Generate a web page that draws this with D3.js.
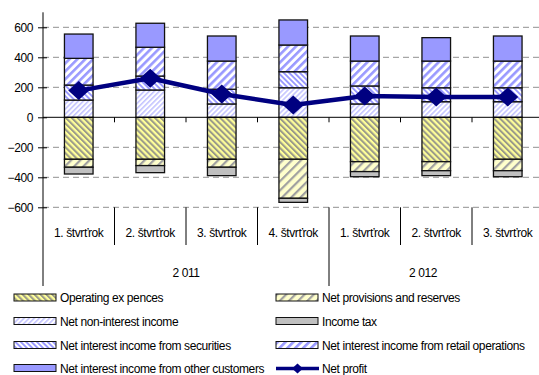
<!DOCTYPE html>
<html>
<head>
<meta charset="utf-8">
<script src="https://cdn.jsdelivr.net/npm/d3@7"></script>
<style>
  html, body { margin: 0; padding: 0; background: #fff; }
  svg { display: block; font-family: "Liberation Sans", Arial, sans-serif; }
</style>
</head>
<body>
<svg id="chart" width="539" height="375"></svg>
<script>
// Quarterly categories and year groups
const quarters = ["1. štvrťrok", "2. štvrťrok", "3. štvrťrok", "4. štvrťrok",
                  "1. štvrťrok", "2. štvrťrok", "3. štvrťrok"];
const years = ["2 011", "2 012"];
const yearSpans = [4, 3];

// Components of the result (mil.)
const nonInterest    = [115, 182,  89, 197,  89, 104, 104];
const securities     = [100,  93,  98, 107, 120,  93,  93];
const retail         = [178, 192, 188, 178, 166, 178, 178];
const otherCustomers = [162, 160, 167, 167, 167, 156, 167];
const opEx           = [-280, -280, -280, -280, -296, -296, -280];
const provisions     = [-53, -42, -53, -260, -66, -60, -76];
const incomeTax      = [-45, -47, -56, -27, -34, -33, -40];
const netProfit      = [178, 260, 155, 82, 142, 135, 135];

const yTicks = [-600, -400, -200, 0, 200, 400, 600];

const seriesDefs = [
  { key: "opEx",           name: "Operating ex pences",                       values: opEx,           fill: "url(#pOpEx)" },
  { key: "provisions",     name: "Net provisions and reserves",               values: provisions,     fill: "url(#pProv)" },
  { key: "nonInterest",    name: "Net non-interest income",                   values: nonInterest,    fill: "url(#pNonInt)" },
  { key: "incomeTax",      name: "Income tax",                                values: incomeTax,      fill: "#c0c0c0" },
  { key: "securities",     name: "Net interest income from securities",       values: securities,     fill: "url(#pSec)" },
  { key: "retail",         name: "Net interest income from retail operations",values: retail,         fill: "url(#pRetail)" },
  { key: "otherCustomers", name: "Net interest income from other customers",  values: otherCustomers, fill: "#9999ff" }
];

const svg = d3.select("#chart");
const defs = svg.append("defs");

// Diagonal hatch patterns; angle 45 -> "/", -45 -> "\"
function hatch(id, bg, fg, period, stripe, angle) {
  const p = defs.append("pattern")
    .attr("id", id)
    .attr("patternUnits", "userSpaceOnUse")
    .attr("width", period).attr("height", period)
    .attr("patternTransform", `rotate(${angle})`);
  p.append("rect").attr("width", period).attr("height", period).attr("fill", bg);
  p.append("rect").attr("width", stripe).attr("height", period).attr("fill", fg);
}
hatch("pOpEx",   "#ffff99", "#9a9a8a", 4.2, 2.0, -45);
hatch("pProv",   "#ffffcc", "#a0a0a0", 6.5, 2.2, 45);
hatch("pNonInt", "#ffffff", "#c4c4ff", 3.6, 1.6, 45);
hatch("pSec",    "#ffffff", "#9999ff", 3.8, 1.9, -45);
hatch("pRetail", "#ffffff", "#9999ff", 5.6, 2.6, 45);

const plotLeft = 43, plotTop = 12.3, plotBottom = 207.3;
const step = 71.5;
const x = d3.scaleBand()
  .domain(d3.range(quarters.length))
  .range([plotLeft, plotLeft + step * quarters.length])
  .paddingInner(0).paddingOuter(0);
const barW = x.bandwidth() * 0.4;

const y = d3.scaleLinear().domain([-600, 700]).range([plotBottom, plotTop]);

// Gridlines
const grid = svg.append("g");
grid.selectAll("line")
  .data(yTicks.filter(d => d !== 0))
  .join("line")
  .attr("x1", plotLeft).attr("x2", 539)
  .attr("y1", d => y(d)).attr("y2", d => y(d))
  .attr("stroke", "#a6a6a6").attr("stroke-width", 1.3)
  .attr("stroke-dasharray", "6,4");

// Stacked bars
const table = quarters.map((q, i) => {
  const row = { i };
  seriesDefs.forEach(s => row[s.key] = s.values[i]);
  return row;
});
const stacked = d3.stack()
  .keys(seriesDefs.map(s => s.key))
  .offset(d3.stackOffsetDiverging)(table);

const bars = svg.append("g");
stacked.forEach((layer, li) => {
  bars.append("g")
    .selectAll("rect")
    .data(layer)
    .join("rect")
    .attr("x", d => x(d.data.i) + (x.bandwidth() - barW) / 2)
    .attr("width", barW)
    .attr("y", d => y(Math.max(d[0], d[1])))
    .attr("height", d => Math.abs(y(d[0]) - y(d[1])))
    .attr("fill", seriesDefs[li].fill)
    .attr("stroke", "#111")
    .attr("stroke-width", 1.3);
});

// Zero line with category ticks
svg.append("line")
  .attr("x1", plotLeft).attr("x2", 539)
  .attr("y1", y(0)).attr("y2", y(0))
  .attr("stroke", "#000").attr("stroke-width", 1);
svg.append("g").selectAll("line")
  .data(d3.range(1, quarters.length + 1))
  .join("line")
  .attr("x1", i => plotLeft + i * step).attr("x2", i => plotLeft + i * step)
  .attr("y1", y(0)).attr("y2", y(0) + 5)
  .attr("stroke", "#000").attr("stroke-width", 1);

// Y axis
const yAxis = d3.axisLeft(y).tickValues(yTicks).tickSize(0).tickPadding(10);
const ya = svg.append("g").attr("transform", `translate(${plotLeft},0)`).call(yAxis);
ya.select(".domain").remove();
ya.selectAll("text")
  .attr("font-size", 12).attr("fill", "#000")
  .attr("font-family", "'Liberation Sans', Arial, sans-serif")
  .attr("letter-spacing", "-0.4");
ya.selectAll(".tick").append("line")
  .attr("x1", -5).attr("x2", 4).attr("stroke", "#000");
svg.append("line")
  .attr("x1", plotLeft).attr("x2", plotLeft)
  .attr("y1", plotTop).attr("y2", 286)
  .attr("stroke", "#000").attr("stroke-width", 1);

// Multi-level category labels
const cat = svg.append("g").attr("font-size", 12).attr("text-anchor", "middle")
  .attr("letter-spacing", "-0.4");
cat.selectAll("text")
  .data(quarters)
  .join("text")
  .attr("x", (d, i) => x(i) + x.bandwidth() / 2)
  .attr("y", 237)
  .text(d => d);
const yearStarts = [0, yearSpans[0]];
cat.selectAll("line.sep")
  .data(d3.range(1, quarters.length))
  .join("line")
  .attr("class", "sep")
  .attr("x1", i => plotLeft + i * step).attr("x2", i => plotLeft + i * step)
  .attr("y1", plotBottom).attr("y2", i => yearStarts.includes(i) ? 286 : 245)
  .attr("stroke", "#000").attr("stroke-width", 1);
cat.selectAll("text.year")
  .data(years)
  .join("text")
  .attr("class", "year")
  .attr("x", (d, k) => {
    const a = plotLeft + yearStarts[k] * step;
    const b = Math.min(plotLeft + (yearStarts[k] + yearSpans[k]) * step, 517);
    return (a + b) / 2;
  })
  .attr("y", 277)
  .text(d => d);

// Net profit line
const line = d3.line()
  .x((d, i) => x(i) + x.bandwidth() / 2)
  .y(d => y(d));
svg.append("path")
  .datum(netProfit)
  .attr("d", line)
  .attr("fill", "none")
  .attr("stroke", "#000080")
  .attr("stroke-width", 4.5)
  .attr("stroke-linejoin", "round");
const diamond = (cx, cy, hw, hh) => `M${cx},${cy - hh}L${cx + hw},${cy}L${cx},${cy + hh}L${cx - hw},${cy}Z`;
svg.append("g").selectAll("path")
  .data(netProfit)
  .join("path")
  .attr("d", (d, i) => diamond(x(i) + x.bandwidth() / 2, y(d), 10.5, 9.5))
  .attr("fill", "#000080");

// Legend
const legendItems = seriesDefs.map(s => ({ name: s.name, fill: s.fill, type: "bar" }))
  .concat([{ name: "Net profit", type: "line" }]);
const legCols = [14, 276];
const legRows = [298, 321.5, 345.5, 368.5];
const leg = svg.append("g").attr("font-size", 12).attr("letter-spacing", "-0.4");
legendItems.forEach((item, k) => {
  const cx = legCols[k % 2], cy = legRows[Math.floor(k / 2)];
  if (item.type === "bar") {
    leg.append("rect")
      .attr("x", cx).attr("y", cy - 4).attr("width", 42).attr("height", 7)
      .attr("fill", item.fill).attr("stroke", "#111").attr("stroke-width", 1);
  } else {
    leg.append("line")
      .attr("x1", cx).attr("x2", cx + 43).attr("y1", cy).attr("y2", cy)
      .attr("stroke", "#000080").attr("stroke-width", 3.5);
    leg.append("path")
      .attr("d", diamond(cx + 21.5, cy, 5.5, 5))
      .attr("fill", "#000080");
  }
  leg.append("text")
    .attr("x", cx + 46).attr("y", cy + 4.3)
    .text(item.name);
});
</script>
</body>
</html>
